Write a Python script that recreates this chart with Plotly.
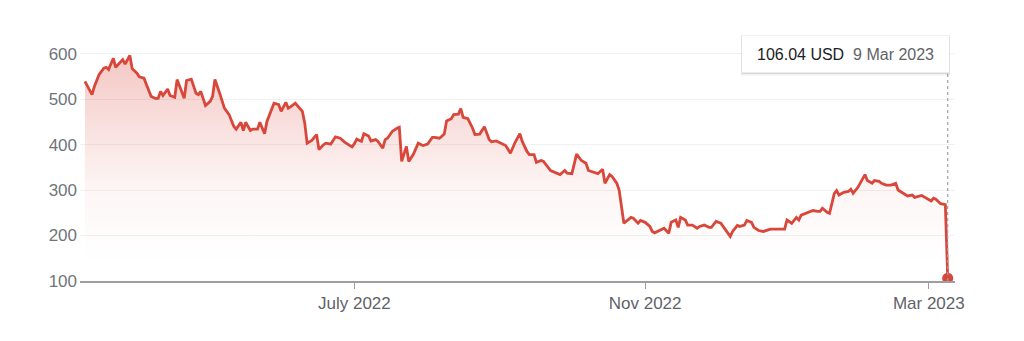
import plotly.graph_objects as go

dates = [
    "2022-03-09", "2022-03-12", "2022-03-13", "2022-03-15", "2022-03-17", "2022-03-18", "2022-03-19",
    "2022-03-21", "2022-03-22", "2022-03-25", "2022-03-26", "2022-03-28", "2022-03-29", "2022-03-31",
    "2022-04-01", "2022-04-03", "2022-04-04", "2022-04-06", "2022-04-08", "2022-04-09", "2022-04-10",
    "2022-04-11", "2022-04-13", "2022-04-14", "2022-04-16", "2022-04-17", "2022-04-20", "2022-04-21",
    "2022-04-23", "2022-04-25", "2022-04-26", "2022-04-27", "2022-04-29", "2022-05-01", "2022-05-02",
    "2022-05-03", "2022-05-05", "2022-05-07", "2022-05-09", "2022-05-11", "2022-05-12", "2022-05-14",
    "2022-05-15", "2022-05-16", "2022-05-18", "2022-05-19", "2022-05-21", "2022-05-22", "2022-05-24",
    "2022-05-25", "2022-05-28", "2022-05-30", "2022-05-31", "2022-06-02", "2022-06-03", "2022-06-04",
    "2022-06-06", "2022-06-07", "2022-06-09", "2022-06-10", "2022-06-11", "2022-06-13", "2022-06-15",
    "2022-06-16", "2022-06-18", "2022-06-19", "2022-06-21", "2022-06-23", "2022-06-25", "2022-06-27",
    "2022-06-30", "2022-07-01", "2022-07-02", "2022-07-04", "2022-07-05", "2022-07-07", "2022-07-08",
    "2022-07-10", "2022-07-11", "2022-07-13", "2022-07-14", "2022-07-15", "2022-07-17", "2022-07-19",
    "2022-07-20", "2022-07-21", "2022-07-23", "2022-07-24", "2022-07-26", "2022-07-28", "2022-07-30",
    "2022-08-01", "2022-08-03", "2022-08-04", "2022-08-06", "2022-08-08", "2022-08-09", "2022-08-11",
    "2022-08-12", "2022-08-14", "2022-08-15", "2022-08-16", "2022-08-18", "2022-08-20", "2022-08-21",
    "2022-08-23", "2022-08-25", "2022-08-27", "2022-08-28", "2022-08-30", "2022-09-01", "2022-09-03",
    "2022-09-05", "2022-09-07", "2022-09-09", "2022-09-10", "2022-09-12", "2022-09-13", "2022-09-15",
    "2022-09-16", "2022-09-18", "2022-09-19", "2022-09-22", "2022-09-24", "2022-09-26", "2022-09-28",
    "2022-09-29", "2022-10-01", "2022-10-03", "2022-10-05", "2022-10-07", "2022-10-08", "2022-10-10",
    "2022-10-12", "2022-10-14", "2022-10-15", "2022-10-17", "2022-10-18", "2022-10-20", "2022-10-21",
    "2022-10-23", "2022-10-24", "2022-10-26", "2022-10-27", "2022-10-29", "2022-10-30", "2022-11-01",
    "2022-11-03", "2022-11-04", "2022-11-05", "2022-11-07", "2022-11-08", "2022-11-09", "2022-11-11",
    "2022-11-12", "2022-11-14", "2022-11-15", "2022-11-16", "2022-11-18", "2022-11-19", "2022-11-21",
    "2022-11-23", "2022-11-24", "2022-11-26", "2022-11-28", "2022-11-29", "2022-12-01", "2022-12-03",
    "2022-12-04", "2022-12-06", "2022-12-07", "2022-12-08", "2022-12-10", "2022-12-11", "2022-12-13",
    "2022-12-14", "2022-12-16", "2022-12-17", "2022-12-19", "2022-12-21", "2022-12-23", "2022-12-24",
    "2022-12-26", "2022-12-28", "2022-12-30", "2022-12-31", "2023-01-01", "2023-01-02", "2023-01-04",
    "2023-01-05", "2023-01-06", "2023-01-09", "2023-01-11", "2023-01-13", "2023-01-14", "2023-01-15",
    "2023-01-17", "2023-01-18", "2023-01-20", "2023-01-21", "2023-01-22", "2023-01-24", "2023-01-26",
    "2023-01-27", "2023-01-28", "2023-01-30", "2023-02-02", "2023-02-03", "2023-02-05", "2023-02-06",
    "2023-02-08", "2023-02-09", "2023-02-11", "2023-02-13", "2023-02-15", "2023-02-16", "2023-02-18",
    "2023-02-20", "2023-02-22", "2023-02-23", "2023-02-26", "2023-02-28", "2023-03-02", "2023-03-03",
    "2023-03-04", "2023-03-06", "2023-03-07", "2023-03-08", "2023-03-09",
]

prices = [
    539, 510, 528, 554, 568, 570, 565,
    590, 570, 587, 577, 596, 567, 557,
    549, 546, 532, 506, 501, 502, 517,
    508, 522, 508, 504, 543, 502, 541,
    544, 513, 510, 517, 486, 495, 506,
    543, 513, 480, 466, 440, 434, 449,
    431, 449, 431, 434, 434, 449, 424,
    451, 491, 488, 473, 493, 480, 483,
    491, 485, 473, 447, 403, 409, 422,
    389, 400, 403, 401, 417, 414, 405,
    395, 402, 412, 407, 424, 419, 408,
    411, 407, 392, 411, 414, 429, 436,
    438, 363, 396, 363, 379, 403, 398,
    401, 416, 416, 414, 423, 452, 457,
    466, 467, 479, 460, 457, 436, 422,
    423, 439, 411, 406, 408, 403, 398,
    381, 405, 424, 407, 385, 378, 378,
    361, 365, 363, 343, 339, 334, 343,
    337, 336, 379, 365, 359, 343, 339,
    336, 346, 315, 334, 330, 315, 300,
    227, 231, 240, 238, 227, 233, 229,
    220, 209, 206, 211, 212, 216, 205,
    229, 234, 218, 240, 234, 223, 223,
    216, 220, 223, 218, 218, 231, 227,
    220, 207, 198, 209, 222, 220, 223,
    233, 229, 218, 211, 209, 212, 214,
    214, 214, 214, 234, 231, 227, 240,
    234, 245, 251, 255, 253, 253, 260,
    251, 249, 292, 299, 289, 295, 297,
    302, 293, 306, 334, 321, 315, 321,
    319, 315, 311, 311, 315, 300, 293,
    287, 289, 284, 288, 282, 276, 282,
    280, 270, 269, 267.83, 106.04,
]

y_ticks = [100, 200, 300, 400, 500, 600]
x_tick_vals = ["2022-07-01", "2022-11-01", "2023-03-01"]
x_tick_text = ["July 2022", "Nov 2022", "Mar 2023"]
currency = "USD"
last_label_date = "9 Mar 2023"

RED = "#d9463a"
FONT = "Liberation Sans, Arial, Helvetica, sans-serif"

fig = go.Figure()

fig.add_trace(go.Scatter(
    x=dates, y=prices, mode="lines",
    line=dict(color=RED, width=2.8),
    fill="tozeroy",
    fillgradient=dict(
        type="vertical", start=140, stop=600,
        colorscale=[[0, "rgba(217,70,58,0)"], [0.35, "rgba(217,70,58,0.05)"],
                    [1, "rgba(217,70,58,0.30)"]],
    ),
    hoverinfo="skip", showlegend=False,
))

fig.add_trace(go.Scatter(
    x=[dates[-1]], y=[prices[-1]], mode="markers",
    marker=dict(color=RED, size=11),
    hoverinfo="skip", showlegend=False,
))

# plot area: x 80..955 px, y 40..281 px
def px_x(p):
    return (p - 80) / 875.0

def px_y(p):
    return (281 - p) / 241.0

shapes = [
    dict(type="line", xref="x", yref="paper", x0=dates[-1], x1=dates[-1],
         y0=0, y1=px_y(73), line=dict(color="#9aa0a6", width=1.2, dash="dot"), layer="above"),
    dict(type="rect", xref="paper", yref="paper", x0=px_x(741), x1=px_x(950),
         y0=px_y(75.5), y1=px_y(35), fillcolor="rgba(0,0,0,0.06)", line=dict(width=0), layer="above"),
    dict(type="rect", xref="paper", yref="paper", x0=px_x(741.5), x1=px_x(949.5),
         y0=px_y(74), y1=px_y(35.5), fillcolor="rgba(0,0,0,0.10)", line=dict(width=0), layer="above"),
    dict(type="rect", xref="paper", yref="paper", x0=px_x(742), x1=px_x(949),
         y0=px_y(72.5), y1=px_y(35.5), fillcolor="white", line=dict(width=0), layer="above"),
]

fig.update_layout(
    width=1024, height=341,
    margin=dict(l=80, r=69, t=40, b=60),
    paper_bgcolor="white", plot_bgcolor="white",
    font=dict(family=FONT, size=17, color="#70757a"),
    shapes=shapes,
    annotations=[dict(
        xref="paper", yref="paper", x=px_x(845.5), y=px_y(54),
        xanchor="center", yanchor="middle", showarrow=False,
        text=(f"<span style='color:#202124'>{prices[-1]:.2f} {currency}</span>"
              f"&nbsp;&nbsp;<span style='color:#5f6368'>{last_label_date}</span>"),
        font=dict(family=FONT, size=16),
    )],
    xaxis=dict(
        type="date",
        range=["2022-03-06 22:00", "2023-03-12 02:00"],
        tickvals=x_tick_vals, ticktext=x_tick_text,
        ticks="outside", ticklen=6, tickwidth=1.2, tickcolor="#9e9e9e",
        showgrid=False, zeroline=False,
        showline=True, linecolor="#9e9e9e", linewidth=2,
        tickfont=dict(size=17, color="#5f6368"),
        fixedrange=True,
    ),
    yaxis=dict(
        range=[100, 630],
        tickvals=y_ticks,
        showgrid=True, gridcolor="#f1f1f1", gridwidth=1,
        zeroline=False, showline=False, ticks="",
        tickfont=dict(size=17, color="#70757a"),
        ticklabelstandoff=2,
        fixedrange=True,
    ),
)

fig.write_html("out.html", config={"displayModeBar": False})
